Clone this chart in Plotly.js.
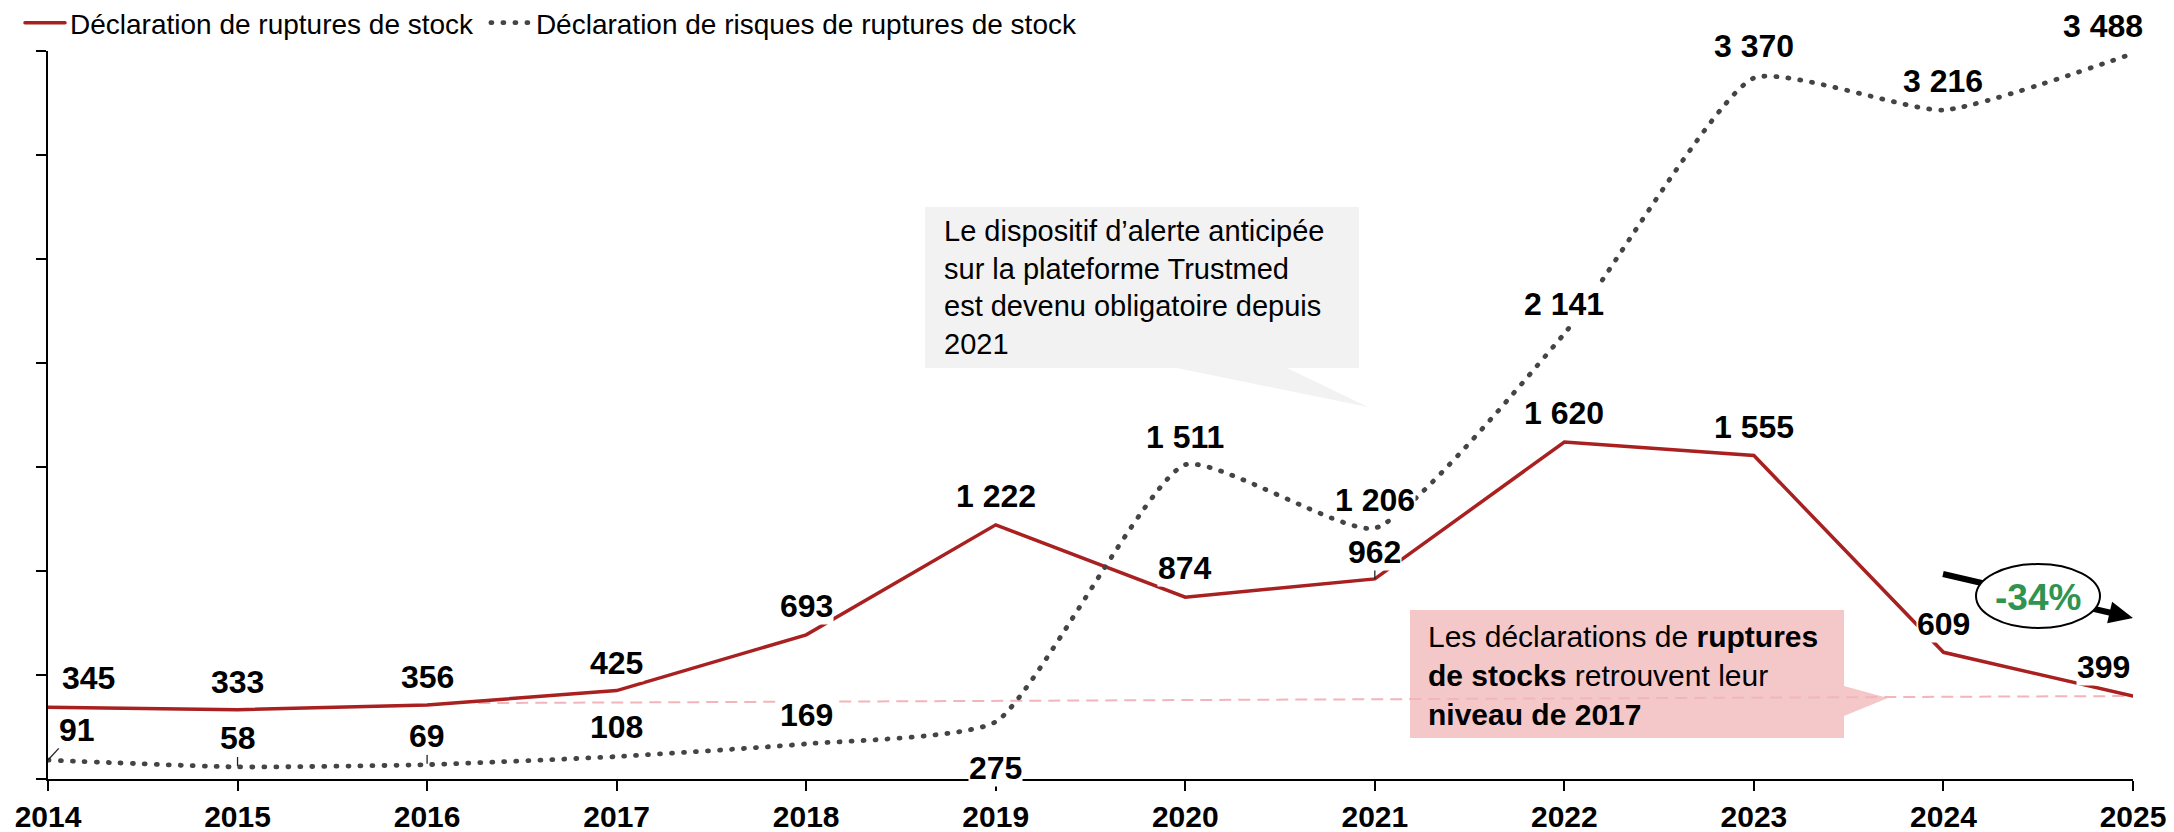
<!DOCTYPE html>
<html>
<head>
<meta charset="utf-8">
<script src="https://cdn.plot.ly/plotly-3.0.1.min.js"></script>
<style>
  html, body { margin: 0; padding: 0; background: #ffffff; }
  #chart { width: 2174px; height: 832px; }
  .js-line { stroke-linecap: round; }
</style>
</head>
<body>
<div id="chart"></div>
<script>
// ---------------- data ----------------
const YEARS = [2014, 2015, 2016, 2017, 2018, 2019, 2020, 2021, 2022, 2023, 2024, 2025];
const YEAR_LABELS = ['2014', '2015', '2016', '2017', '2018', '2019', '2020', '2021', '2022', '2023', '2024', '2025'];
const RUPTURES = [345, 333, 356, 425, 693, 1222, 874, 962, 1620, 1555, 609, 399];
const RISQUES = [91, 58, 69, 108, 169, 275, 1511, 1206, 2141, 3370, 3216, 3488];
const SERIES_NAMES = ['Déclaration de ruptures de stock', 'Déclaration de risques de ruptures de stock'];
const CALLOUT_TEXT = 'Le dispositif d’alerte anticipée<br>sur la plateforme Trustmed<br>est devenu obligatoire depuis<br>2021';
const PINK_TEXT = 'Les déclarations de <b>ruptures</b><br><b>de stocks</b> retrouvent leur<br><b>niveau de 2017</b>';
const CHANGE_TEXT = '-34%';

// ---------------- label placement (screen px, + = right / down) ----------------
const RUP_DX = [40, 0, 0, 0, 0, 0, 0, 0, 0, 0, 0, -30];
const RUP_DY = [-29, -28, -28, -28, -29, -29, -29, -27, -29, -29, -28, -29];
const RIS_DX = [29, 0, 0, 0, 0, 0, 0, 0, 0, 0, 0, -30];
const RIS_DY = [-30, -29, -29, -30, -29, 46, -28, -28, -30, -32, -29, -28];

// ---------------- geometry ----------------
const W = 2174, H = 832;
const M = { l: 48, r: 41, t: 51, b: 53, autoexpand: false };
const PW = W - M.l - M.r, PH = H - M.t - M.b;
const X = px => (px - M.l) / PW;
const Y = py => 1 - (py - M.t) / PH;

function fmt(v) {
  if (v >= 1000) return Math.floor(v / 1000) + ' ' + String(v % 1000).padStart(3, '0');
  return String(v);
}

const FONT = 'Liberation Sans, Arial, sans-serif';
const RED = '#A8201F';
const GREY = '#444444';
const PAD = '\u00a0';

const traces = [
  {
    x: YEARS, y: RUPTURES, name: SERIES_NAMES[0] + PAD, type: 'scatter', mode: 'lines',
    line: { color: RED, width: 3.5 }, hoverinfo: 'skip'
  },
  {
    x: YEARS, y: RISQUES, name: SERIES_NAMES[1], type: 'scatter', mode: 'lines',
    line: { color: GREY, width: 4.8, dash: '1px,11px', shape: 'spline', smoothing: 0.5 }, hoverinfo: 'skip'
  }
];

const annotations = [];
function addLabels(vals, dx, dy) {
  vals.forEach((v, i) => {
    annotations.push({
      x: YEARS[i], y: v, xref: 'x', yref: 'y', text: fmt(v), showarrow: false,
      xshift: dx[i], yshift: -dy[i], bgcolor: 'rgba(255,255,255,1)', borderpad: 0,
      font: { family: FONT, size: 32, color: '#000000', weight: 'bold' }
    });
  });
}
addLabels(RUPTURES, RUP_DX, RUP_DY);
addLabels(RISQUES, RIS_DX, RIS_DY);

annotations.push({
  xref: 'paper', yref: 'paper', x: X(942), y: Y(287), xanchor: 'left', yanchor: 'middle',
  align: 'left', showarrow: false, text: CALLOUT_TEXT,
  font: { family: FONT, size: 29, color: '#000000' }
});
annotations.push({
  xref: 'paper', yref: 'paper', x: X(1426), y: Y(675), xanchor: 'left', yanchor: 'middle',
  align: 'left', showarrow: false, text: PINK_TEXT,
  font: { family: FONT, size: 30, color: '#000000' }
});
annotations.push({
  xref: 'paper', yref: 'paper', x: X(2038), y: Y(597), xanchor: 'center', yanchor: 'middle',
  showarrow: false, text: CHANGE_TEXT,
  font: { family: FONT, size: 37, color: '#2F9450', weight: 'bold' }
});

function poly(pts) {
  return 'M' + pts.map(p => X(p[0]) + ',' + Y(p[1])).join('L') + 'Z';
}

// arrow geometry (px)
const A0 = [1943, 574], TIP = [2133, 618];
const ux = (TIP[0] - A0[0]), uy = (TIP[1] - A0[1]);
const ul = Math.hypot(ux, uy);
const u = [ux / ul, uy / ul], n = [-u[1], u[0]];
const HL = 24, HW = 11;
const base = [TIP[0] - HL * u[0], TIP[1] - HL * u[1]];

const shapes = [
  // reference dashed line (level of 2025)
  {
    type: 'line', xref: 'x', yref: 'y', x0: 2016.27, y0: 365, x1: YEARS[YEARS.length - 1], y1: RUPTURES[RUPTURES.length - 1],
    line: { color: '#F2B5BC', width: 2, dash: '12px,7px' }, layer: 'below'
  },
  // grey callout
  {
    type: 'path', xref: 'paper', yref: 'paper', layer: 'below',
    path: poly([[925, 207], [1359, 207], [1359, 368], [1287, 368], [1368, 407], [1177, 368], [925, 368]]),
    fillcolor: '#F2F2F2', line: { width: 0 }
  },
  // pink callout
  {
    type: 'path', xref: 'paper', yref: 'paper', layer: 'below',
    path: poly([[1410, 610], [1844, 610], [1844, 686], [1888, 698], [1844, 716], [1844, 738], [1410, 738]]),
    fillcolor: '#F4C8C9', line: { width: 0 }
  },
  // leader lines
  { type: 'line', xref: 'x', yref: 'y', xsizemode: 'pixel', ysizemode: 'pixel', xanchor: YEARS[0], yanchor: RISQUES[0], x0: 0, y0: 0, x1: 11, y1: 12, line: { color: '#222', width: 1.3 } },
  { type: 'line', xref: 'x', yref: 'y', xsizemode: 'pixel', ysizemode: 'pixel', xanchor: YEARS[1], yanchor: RISQUES[1], x0: 0, y0: 1, x1: 0, y1: 10, line: { color: '#222', width: 1.3 } },
  { type: 'line', xref: 'x', yref: 'y', xsizemode: 'pixel', ysizemode: 'pixel', xanchor: YEARS[2], yanchor: RISQUES[2], x0: 0, y0: 1, x1: 0, y1: 10, line: { color: '#222', width: 1.3 } },
  { type: 'line', xref: 'x', yref: 'y', xsizemode: 'pixel', ysizemode: 'pixel', xanchor: YEARS[7], yanchor: RUPTURES[7], x0: 0, y0: 0, x1: 0, y1: 12, line: { color: '#222', width: 1.3 } },
  // -34% arrow
  {
    type: 'line', xref: 'paper', yref: 'paper', layer: 'above',
    x0: X(A0[0]), y0: Y(A0[1]), x1: X(base[0] + 2 * u[0]), y1: Y(base[1] + 2 * u[1]),
    line: { color: '#000000', width: 6 }
  },
  {
    type: 'path', xref: 'paper', yref: 'paper', layer: 'above',
    path: poly([TIP, [base[0] + HW * n[0], base[1] + HW * n[1]], [base[0] - HW * n[0], base[1] - HW * n[1]]]),
    fillcolor: '#000000', line: { width: 0 }
  },
  {
    type: 'circle', xref: 'paper', yref: 'paper', layer: 'above',
    x0: X(1976), x1: X(2100), y0: Y(564), y1: Y(628),
    fillcolor: '#FFFFFF', line: { color: '#000000', width: 2 }
  }
];

const layout = {
  width: W, height: H,
  margin: M,
  paper_bgcolor: '#FFFFFF', plot_bgcolor: 'rgba(0,0,0,0)',
  font: { family: FONT, color: '#000000' },
  showlegend: true,
  legend: {
    orientation: 'h', x: X(20), xanchor: 'left', y: Y(48), yanchor: 'bottom',
    font: { family: FONT, size: 28, color: '#000000' },
    bgcolor: 'rgba(0,0,0,0)', itemwidth: 40,
    itemclick: false, itemdoubleclick: false
  },
  xaxis: {
    range: [YEARS[0], YEARS[YEARS.length - 1]],
    tickvals: YEARS, ticktext: YEAR_LABELS,
    tickfont: { family: FONT, size: 30, color: '#000000', weight: 'bold' },
    ticks: 'outside', ticklen: 10, tickwidth: 2, tickcolor: '#000000',
    ticklabelstandoff: 0,
    showline: true, linecolor: '#000000', linewidth: 2,
    showgrid: false, zeroline: false, fixedrange: true
  },
  yaxis: {
    range: [0, 3500], tick0: 0, dtick: 500, showticklabels: false,
    ticks: 'outside', ticklen: 10, tickwidth: 2, tickcolor: '#000000',
    showline: true, linecolor: '#000000', linewidth: 2,
    showgrid: false, zeroline: false, fixedrange: true
  },
  annotations: annotations,
  shapes: shapes
};

Plotly.newPlot('chart', traces, layout, { staticPlot: true, displayModeBar: false });
</script>
</body>
</html>
